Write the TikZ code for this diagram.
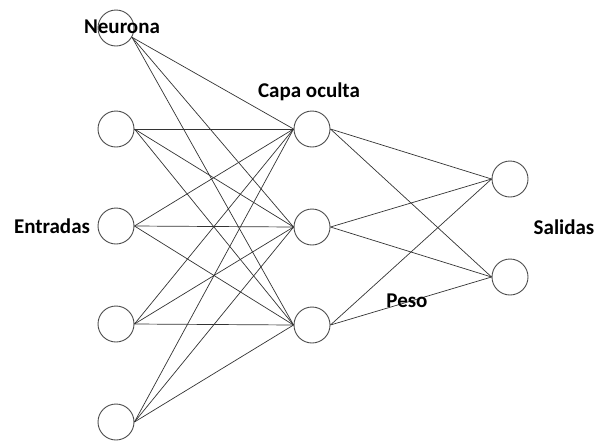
\documentclass[tikz,border=0pt]{standalone}
\usepackage{fontspec}
\setmainfont{Carlito}
\begin{document}
\begin{tikzpicture}[x=1pt,y=-1pt,
  neuron/.style={circle,draw=black!70,line width=0.9pt,minimum size=36pt,inner sep=0pt},
  link/.style={draw=black!80,line width=0.7pt},
  lbl/.style={font=\fontsize{21}{25}\selectfont\bfseries,inner sep=0pt,anchor=base}]
\useasboundingbox (0,0) rectangle (597,440);
% input layer
\node[neuron] (i1) at (116,28) {};
\node[neuron] (i2) at (116,129) {};
\node[neuron] (i3) at (116,226) {};
\node[neuron] (i4) at (116,324) {};
\node[neuron] (i5) at (116,422) {};
% hidden layer
\node[neuron] (h1) at (312,129) {};
\node[neuron] (h2) at (312,227) {};
\node[neuron] (h3) at (312,325) {};
% output layer
\node[neuron] (o1) at (510,179) {};
\node[neuron] (o2) at (510,277) {};
% weights: inputs to hidden (the top neuron's links leave from its lower right)
\foreach \h in {1,2,3}
  \draw[link] (i1.-30) -- (h\h.west);
\foreach \i in {2,...,5}
  \foreach \h in {1,2,3}
    \draw[link] (i\i.east) -- (h\h.west);
% weights: hidden to outputs
\foreach \h in {1,2,3}
  \foreach \o in {1,2}
    \draw[link] (h\h.east) -- (o\o.west);
% labels
\node[lbl] (tneur) at (122,33) {Neurona};
\node[lbl] (tin) at (52,233) {Entradas};
\node[lbl] (thid) at (309,97) {Capa oculta};
\node[lbl] (tw) at (407,307) {Peso};
\node[lbl] (tout) at (564,234) {Salidas};
\end{tikzpicture}
\end{document}
